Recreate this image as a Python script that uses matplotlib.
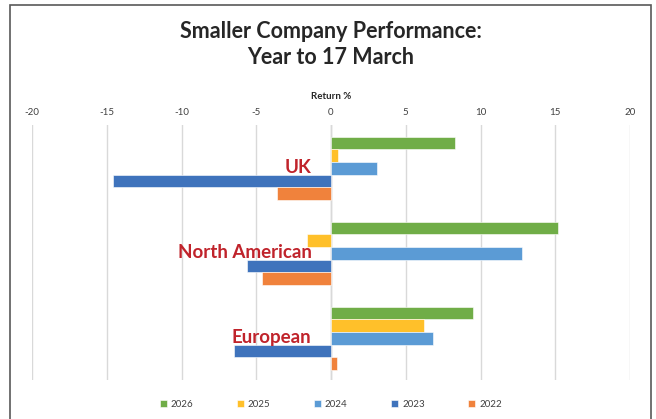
import numpy as np
import matplotlib
matplotlib.use("Agg")
import matplotlib.pyplot as plt
from matplotlib.patches import Rectangle

plt.rcParams['font.family'] = ['Lato', 'DejaVu Sans']
plt.rcParams['axes.unicode_minus'] = False

categories = ['UK', 'North American', 'European']
years = ['2026', '2025', '2024', '2023', '2022']
colors = ['#70AD47', '#FFC02A', '#5B9BD5', '#3F73BC', '#F0823C']

r2026 = [8.3, 15.2, 9.5]
r2025 = [0.5, -1.6, 6.2]
r2024 = [3.1, 12.8, 6.8]
r2023 = [-14.6, -5.6, -6.5]
r2022 = [-3.6, -4.6, 0.4]
series = [r2026, r2025, r2024, r2023, r2022]

fig = plt.figure(figsize=(6.56, 4.19), dpi=100)
ax = fig.add_axes([32 / 656, 1 - 380 / 419, (630 - 32) / 656, (380 - 125) / 419])

bar_h = 0.148
y = np.arange(len(categories))
for i, (vals, col, yr) in enumerate(zip(series, colors, years)):
    offs = (i - 2) * bar_h
    ax.barh(y + offs + 0.01, vals, height=bar_h, color=col, label=yr,
            edgecolor='white', linewidth=0.4, zorder=3)

ax.set_xlim(-20, 20)
ax.set_ylim(2.5, -0.5)
ax.set_xticks(np.arange(-20, 21, 5))
ax.xaxis.tick_top()
ax.xaxis.set_label_position('top')
ax.tick_params(axis='x', length=0, labelsize=7, colors='#404040', pad=6)
ax.set_xlabel('Return %', fontsize=7, fontweight='bold', color='#262626', labelpad=6)
ax.set_yticks([])
ax.grid(axis='x', color='#D9D9D9', linewidth=1.0, zorder=0)
for s in ax.spines.values():
    s.set_visible(False)
ax.axvline(0, color='#D0D0D0', linewidth=1.0, zorder=1)

for yi, name in zip(y, categories):
    ax.text(-1.3, yi, name, ha='right', va='center', color='#C0232B',
            fontsize=13.5, fontweight='bold', zorder=4)

fig.text(331 / 656, 1 - 31 / 419, 'Smaller Company Performance:', ha='center', va='center',
         fontsize=15.5, fontweight='bold', color='#262626')
fig.text(331 / 656, 1 - 57 / 419, 'Year to 17 March', ha='center', va='center',
         fontsize=15.5, fontweight='bold', color='#262626')

leg = fig.legend(loc='center', bbox_to_anchor=(331 / 656, 1 - 404 / 419), ncol=5,
                 frameon=False, fontsize=7, handlelength=0.7, handleheight=0.7,
                 columnspacing=4.5, handletextpad=0.4)
for t in leg.get_texts():
    t.set_color('#404040')

# chart border (bottom runs off the image)
fig.add_artist(Rectangle((10 / 656, -0.05), (651 - 10) / 656, 1.05 - 5 / 419,
                         transform=fig.transFigure, fill=False,
                         edgecolor='#595959', linewidth=1.2))

fig.savefig('out.png', dpi=100)
